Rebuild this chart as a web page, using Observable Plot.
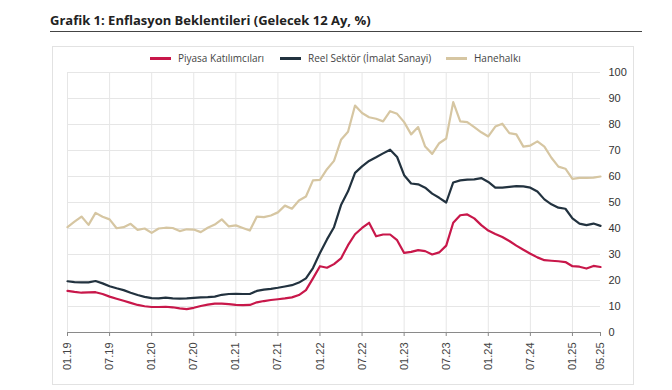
<!DOCTYPE html>
<html><head><meta charset="utf-8">
<script src="https://cdn.jsdelivr.net/npm/d3@7"></script>
<script src="https://cdn.jsdelivr.net/npm/@observablehq/plot@0.6"></script>
<style>
body{margin:0;background:#fff;font-family:"Open Sans",sans-serif;}
#wrap{position:relative;width:672px;height:390px;overflow:hidden;background:#fff;}
#title{position:absolute;left:50px;top:11px;font-weight:700;font-size:13px;color:#222;white-space:nowrap;}
#rule{position:absolute;left:50px;top:31px;width:592px;height:0;border-top:1.5px solid #444;}
#box{position:absolute;left:52px;top:46px;width:582px;height:339px;border:1px solid #e2e2e2;box-sizing:border-box;}
#legend{position:absolute;top:50px;left:0;width:672px;height:16px;}
.item{position:absolute;top:0;display:flex;align-items:center;font-size:10px;color:#444;white-space:nowrap;height:16px;}
.sw{width:21px;height:3px;margin-right:7px;}
#chart{position:absolute;left:0;top:62px;}
</style></head>
<body>
<div id="wrap">
  <div id="title">Grafik 1: Enflasyon Beklentileri (Gelecek 12 Ay, %)</div>
  <div id="rule"></div>
  <div id="box"></div>
  <div id="legend"></div>
  <div id="chart"></div>
</div>
<script>
// Series names and colours
const seriesNames = ["Piyasa Katılımcıları", "Reel Sektör (İmalat Sanayi)", "Hanehalkı"];
const seriesColors = ["#C8174A", "#22323F", "#D6C6A2"];

// Tick positions (month index from 01.2019) and labels
const tickIndex = [0, 6, 12, 18, 24, 30, 36, 42, 48, 54, 60, 66, 72, 76];
const tickLabels = ["01.19","07.19","01.20","07.20","01.21","07.21","01.22","07.22","01.23","07.23","01.24","07.24","01.25","05.25"];
const yTicks = [0,10,20,30,40,50,60,70,80,90,100];

// Monthly values, 01.2019 – 05.2025
const piyasa = [16.0,15.6,15.3,15.4,15.5,14.8,13.8,13.0,12.2,11.4,
  10.6,10.1,9.8,9.8,9.9,9.7,9.3,9.0,9.5,10.2,
  10.7,11.1,11.1,10.9,10.6,10.5,10.6,11.6,12.1,12.5,
  12.8,13.1,13.5,14.4,16.3,20.8,25.5,24.9,26.3,28.5,
  33.6,37.8,40.2,42.2,37.0,37.7,37.7,35.5,30.6,31.0,
  31.7,31.3,30.0,30.8,33.4,42.2,45.1,45.4,43.9,41.3,
  39.2,37.9,36.7,35.2,33.4,31.8,30.3,28.9,27.8,27.6,
  27.4,27.1,25.5,25.3,24.6,25.6,25.2];
const reel = [19.7,19.4,19.3,19.3,19.8,18.9,17.8,17.0,16.3,15.3,
  14.4,13.7,13.2,13.1,13.4,13.1,13.0,13.1,13.3,13.5,
  13.6,13.8,14.5,14.8,14.9,14.8,14.8,16.0,16.5,16.8,
  17.2,17.7,18.2,19.2,20.8,24.8,30.6,35.8,40.5,49.0,
  54.3,61.4,63.9,66.0,67.4,68.9,70.3,67.5,60.5,57.3,
  57.0,55.7,53.4,51.8,50.0,57.7,58.5,58.8,58.9,59.4,
  57.9,55.7,55.7,56.0,56.3,56.2,55.7,54.2,51.2,49.3,
  48.0,47.6,43.9,41.9,41.3,41.9,41.0];
const hanehalki = [40.5,42.6,44.6,41.4,46.0,44.5,43.5,40.1,40.5,41.8,
  39.5,40.0,38.3,40.0,40.3,40.2,39.0,39.7,39.6,38.6,
  40.3,41.5,43.5,40.8,41.2,40.2,39.2,44.6,44.4,45.0,
  46.2,48.8,47.6,50.8,52.3,58.5,58.7,62.8,66.0,74.1,
  77.2,87.3,84.4,82.8,82.2,81.2,85.1,84.1,80.9,76.2,
  79.0,71.5,68.7,72.8,74.6,88.6,81.2,80.9,79.0,77.0,
  75.4,79.2,80.3,76.7,76.2,71.5,71.9,73.5,71.5,67.2,
  63.8,63.0,59.1,59.5,59.5,59.6,60.0];

const allSeries = [piyasa, reel, hanehalki];

// Legend
const legend = document.getElementById("legend");
const legendLeft = [150, 280, 446];
seriesNames.forEach((name, k) => {
  const it = document.createElement("div");
  it.className = "item";
  it.style.left = legendLeft[k] + "px";
  const sw = document.createElement("span");
  sw.className = "sw";
  sw.style.background = seriesColors[k];
  const tx = document.createElement("span");
  tx.textContent = name;
  it.appendChild(sw); it.appendChild(tx);
  legend.appendChild(it);
});

const lineMarks = allSeries.map((vals, k) =>
  Plot.line(vals.map((v, i) => ({i, v})), {
    x: "i", y: "v", stroke: seriesColors[k], strokeWidth: 2.2, curve: "linear"
  })
);

const chart = Plot.plot({
  width: 672,
  height: 328,
  marginLeft: 67,
  marginRight: 72,
  marginTop: 10,
  marginBottom: 58,
  style: {background: "transparent", fontFamily: "Liberation Sans, Arial, sans-serif"},
  x: {type: "linear", domain: [0, 76]},
  y: {domain: [0, 100]},
  marks: [
    Plot.gridY(yTicks, {stroke: "#e6e6e6", strokeOpacity: 1}),
    Plot.gridX(tickIndex.slice(0, -1), {stroke: "#e6e6e6", strokeOpacity: 1}),
    Plot.axisY(yTicks, {anchor: "right", tickSize: 0, tickPadding: 8, fontSize: 11, fill: "#333", label: null}),
    Plot.axisX(tickIndex, {anchor: "bottom", tickSize: 4, tickPadding: 6, tickRotate: -90, fontSize: 11, fill: "#444", stroke: "#888",
      tickFormat: d => tickLabels[tickIndex.indexOf(d)], label: null}),
    Plot.ruleY([0], {stroke: "#8a8a8a"}),
    ...lineMarks
  ]
});
document.getElementById("chart").appendChild(chart);
</script>
</body></html>
